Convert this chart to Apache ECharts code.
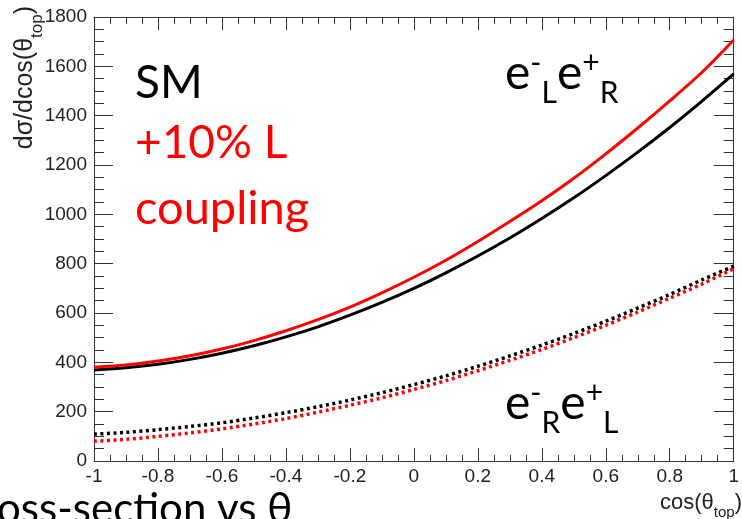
<!DOCTYPE html>
<html><head><meta charset="utf-8">
<script src="https://cdn.jsdelivr.net/npm/echarts@6/dist/echarts.min.js"></script>
<style>html,body{margin:0;padding:0;background:#fff;overflow:hidden}#c{width:742px;height:519px}</style>
</head><body><div id="c"></div>
<script>
// cos(theta_top) sample points
const cosTheta = [-1,-0.9,-0.8,-0.7,-0.6,-0.5,-0.4,-0.3,-0.2,-0.1,0,0.1,0.2,0.3,0.4,0.5,0.6,0.7,0.8,0.9,1];
// e-_L e+_R : SM (black) and +10% L coupling (red)
const smLR  = [369,378,392,412,437,467,503,544,591,643,700,763,831,904,983,1067,1157,1252,1352,1458,1569];
const modLR = [380,389,405,427,454,488,528,573,624,682,745,814,890,971,1055,1146,1245,1350,1460,1575,1707];
// e-_R e+_L : SM (black dotted) and +10% L coupling (red dotted)
const smRL  = [109,116,127,140,155,174,196,220,247,277,310,345,384,426,470,517,567,620,675,734,790];
const modRL = [80,88,100,114,130,150,172,198,226,256,290,326,366,408,452,500,550,604,660,717,780];

const pairs = v => cosTheta.map((c,i)=>[c,v[i]]);
const axisCol = '#333';
const lab = {color:'#222', fontFamily:'Liberation Sans, Arial, sans-serif', fontSize:19};

const chart = echarts.init(document.getElementById('c'), null, {renderer:'canvas'});
const xBase = {type:'value', min:-1, max:1, interval:0.2, splitLine:{show:false},
  axisLine:{show:true,onZero:false,lineStyle:{color:axisCol,width:1}}};
const yBase = {type:'value', min:0, max:1800, interval:200, splitLine:{show:false},
  axisLine:{show:true,onZero:false,lineStyle:{color:axisCol,width:1}}};

chart.setOption({
  animation:false,
  backgroundColor:'#fff',
  grid:{left:94, right:2, top:17, bottom:58, containLabel:false},
  xAxis:[
    Object.assign({}, xBase, {position:'bottom',
      axisTick:{inside:true,length:13,lineStyle:{color:axisCol}},
      minorTick:{show:true,splitNumber:4,length:6,lineStyle:{color:axisCol}},
      axisLabel:Object.assign({margin:6,showMinLabel:true,showMaxLabel:true,formatter:v=>String(Math.round(v*10)/10)}, lab)}),
    Object.assign({}, xBase, {position:'top',
      axisTick:{inside:true,length:13,lineStyle:{color:axisCol}},
      minorTick:{show:true,splitNumber:4,length:7,lineStyle:{color:axisCol}},
      axisLabel:{show:false}})
  ],
  yAxis:[
    Object.assign({}, yBase, {position:'left',
      axisTick:{inside:true,length:19,lineStyle:{color:axisCol}},
      minorTick:{show:true,splitNumber:4,length:10,lineStyle:{color:axisCol}},
      axisLabel:Object.assign({margin:7,formatter:v=>String(v)}, lab)}),
    Object.assign({}, yBase, {position:'right',
      axisTick:{inside:true,length:20,lineStyle:{color:axisCol}},
      minorTick:{show:true,splitNumber:4,length:10,lineStyle:{color:axisCol}},
      axisLabel:{show:false}})
  ],
  series:[
    {type:'line', data:pairs(smLR), showSymbol:false, smooth:0.3, lineStyle:{color:'#000',width:3}},
    {type:'line', data:pairs(modLR), showSymbol:false, smooth:0.3, lineStyle:{color:'#ff0000',width:3}},
    {type:'line', data:pairs(smRL), showSymbol:false, smooth:0.3, lineStyle:{color:'#000',width:3.5,type:[3,3.5]}},
    {type:'line', data:pairs(modRL), showSymbol:false, smooth:0.3, lineStyle:{color:'#ff0000',width:3.5,type:[3,3.5]}}
  ],
  graphic:[
    {type:'text', x:135, y:83, style:{text:'SM', fill:'#000', font:'46px Lato', verticalAlign:'middle'}},
    {type:'text', x:135, y:143, style:{text:'+10% L', fill:'#ff0000', font:'46px Lato', verticalAlign:'middle'}},
    {type:'text', x:135, y:209, style:{text:'coupling', fill:'#ff0000', font:'47px Lato', verticalAlign:'middle'}},
    {type:'text', x:505, y:108, style:{text:'{e|e}{p|-}{b|L}{e|e}{p|+}{b|R}', verticalAlign:'bottom', fill:'#000',
      rich:{e:{fontFamily:'Lato',fontSize:48,lineHeight:48,verticalAlign:'bottom',padding:[0,0,10,0]},
            p:{fontFamily:'Lato',fontSize:30,lineHeight:30,verticalAlign:'bottom',padding:[0,0,30,0]},
            b:{fontFamily:'Lato',fontSize:30,lineHeight:30,verticalAlign:'bottom'}}}},
    {type:'text', x:505, y:438, style:{text:'{e|e}{p|-}{b|R}{e|e}{p|+}{b|L}', verticalAlign:'bottom', fill:'#000',
      rich:{e:{fontFamily:'Lato',fontSize:48,lineHeight:48,verticalAlign:'bottom',padding:[0,0,10,0]},
            p:{fontFamily:'Lato',fontSize:30,lineHeight:30,verticalAlign:'bottom',padding:[0,0,30,0]},
            b:{fontFamily:'Lato',fontSize:30,lineHeight:30,verticalAlign:'bottom'}}}},
    {type:'text', x:742, y:520, style:{text:'{m|cos(θ}{s|top}{m|)}', align:'right', verticalAlign:'bottom', fill:'#222',
      rich:{m:{fontFamily:'Liberation Sans',fontSize:22,lineHeight:22,verticalAlign:'bottom',padding:[0,0,6,0]},
            s:{fontFamily:'Liberation Sans',fontSize:15,lineHeight:15,verticalAlign:'bottom'}}}},
    {type:'text', x:46, y:6, rotation:Math.PI/2, style:{text:'{m|dσ/dcos(θ}{s|top}{m|)}', align:'right', verticalAlign:'bottom', fill:'#222',
      rich:{m:{fontFamily:'Liberation Sans',fontSize:25,lineHeight:25,verticalAlign:'bottom',padding:[0,0,8,0]},
            s:{fontFamily:'Liberation Sans',fontSize:17,lineHeight:17,verticalAlign:'bottom'}}}},
    {type:'text', x:-3, y:509, style:{text:'oss-section vs θ', fill:'#000', font:'42px Lato', verticalAlign:'middle'}}
  ]
});
</script></body></html>
